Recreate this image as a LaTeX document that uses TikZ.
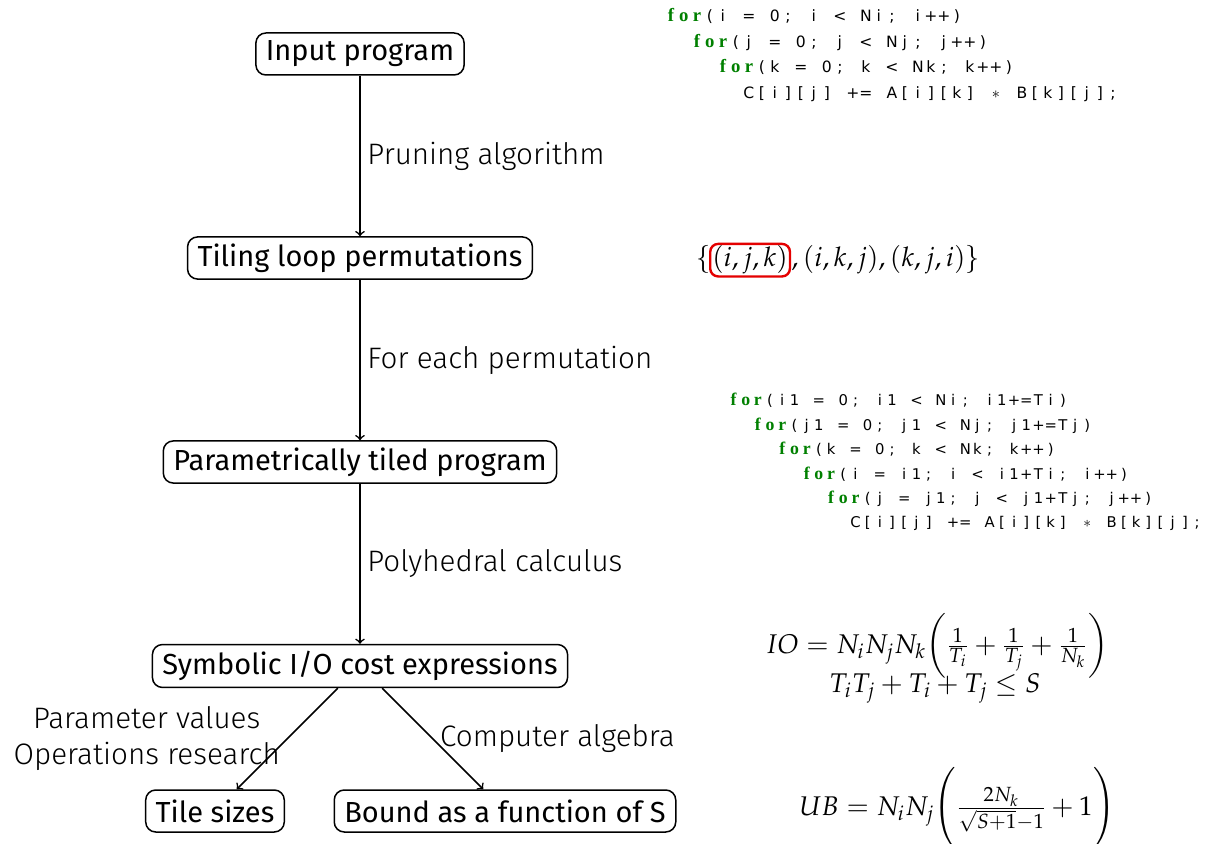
\documentclass[tikz,border=0pt]{standalone}
\usepackage{mathpazo}
\usepackage[no-math]{fontspec}
\setmainfont{Fira Sans}
\newfontfamily\lightfont{Fira Sans Light}
\newfontfamily\codefont{DejaVu Sans}
\newfontfamily\kwfont{Liberation Serif}[Scale=1.2]
\usepackage{tikz}

\definecolor{kwgreen}{RGB}{0,128,0}
\definecolor{markred}{RGB}{228,0,0}

% fixed-column code cells
\newlength\colw
\newcommand\kw[1]{{\kwfont\bfseries\color{kwgreen}#1}}
\newcommand\cells[1]{\cellloop#1\relax}
\def\cellloop#1{\ifx#1\relax\else\makebox[\colw]{#1}\expandafter\cellloop\fi}
\newcommand\forkw{\makebox[\colw]{\kw{f}}\makebox[\colw]{\kw{o}}\makebox[\colw]{\kw{r}}}
\newcommand\ind[1]{\hspace*{#1\colw}}

\begin{document}
\begin{tikzpicture}[
  x=0.5pt, y=-0.5pt,
  stage/.style={draw, line width=0.75pt, rounded corners=5pt, inner xsep=5pt, minimum height=21pt,
    font=\fontsize{14.5}{17}\selectfont},
  steplabel/.style={font=\lightfont\fontsize{14.8}{18}\selectfont},
  code/.style={align=left, inner sep=0pt, anchor=north west},
  formula/.style={font=\fontsize{13.5}{17}\selectfont, inner sep=0pt},
  level distance=102pt,
  level 4/.style={level distance=72.5pt, sibling distance=145pt},
  edge from parent/.style={draw, ->, line width=0.8pt}
]
\useasboundingbox (0,0) rectangle (1221,844);

% the flow
\node[stage] (input) at (360,54) {Input program}
  child { node[stage] (perms) {Tiling loop permutations}
    child { node[stage] (tiled) {Parametrically tiled program}
      child { node[stage] (cost) {Symbolic I/O cost expressions}
        child { node[stage] (tiles) {Tile sizes}
          edge from parent node[steplabel, left, align=center] {Parameter values\\Operations research} }
        child { node[stage] (bound) {Bound as a function of S}
          edge from parent node[steplabel, right] {Computer algebra} }
        edge from parent node[steplabel, right] {Polyhedral calculus} }
      edge from parent node[steplabel, right] {For each permutation} }
    edge from parent node[steplabel, right] {Pruning algorithm} };

% loop nests
\global\colw=6.5pt
\node[code, font=\codefont\fontsize{7.8}{12.8}\selectfont] (naive) at (664,8) {%
  \forkw\cells{(i~=~0;~i~<~Ni;~i++)}\\
  \ind{2}\forkw\cells{(j~=~0;~j~<~Nj;~j++)}\\
  \ind{4}\forkw\cells{(k~=~0;~k~<~Nk;~k++)}\\
  \ind{6}\cells{C[i][j]~+=~A[i][k]~{$\ast$}~B[k][j];}};

\global\colw=6.1pt
\node[code, font=\codefont\fontsize{7.4}{12.2}\selectfont] (tiledcode) at (727,393) {%
  \forkw\cells{(i1~=~0;~i1~<~Ni;~i1+=Ti)}\\
  \ind{2}\forkw\cells{(j1~=~0;~j1~<~Nj;~j1+=Tj)}\\
  \ind{4}\forkw\cells{(k~=~0;~k~<~Nk;~k++)}\\
  \ind{6}\forkw\cells{(i~=~i1;~i~<~i1+Ti;~i++)}\\
  \ind{8}\forkw\cells{(j~=~j1;~j~<~j1+Tj;~j++)}\\
  \ind{10}\cells{C[i][j]~+=~A[i][k]~{$\ast$}~B[k][j];}};

% permutation set
\node[formula, anchor=base east] (lbrace) at (711,267) {$\{$};
\node[formula, anchor=base west, draw=markred, line width=1.2pt, rounded corners=4pt, inner sep=1pt]
  (firstperm) at ([xshift=-1pt]lbrace.base east) {$(i,j,k)$};
\node[formula, anchor=base west] (restperm) at (firstperm.base east) {$,(i,k,j),(k,j,i)\}$};

% cost model
\node[formula, anchor=base] (iocost) at (937,653)
  {$IO = N_iN_jN_k\biggl(\frac{1}{T_i}+\frac{1}{T_j}+\frac{1}{N_k}\biggr)$};
\node[formula, anchor=base] (capacity) at (935,692) {$T_iT_j+T_i+T_j\le S$};
\node[formula, anchor=base] (ubound) at (957,815) {$UB = N_iN_j\Biggl(\frac{2N_k}{\sqrt{S+1}-1}+1\Biggr)$};
\end{tikzpicture}
\end{document}
